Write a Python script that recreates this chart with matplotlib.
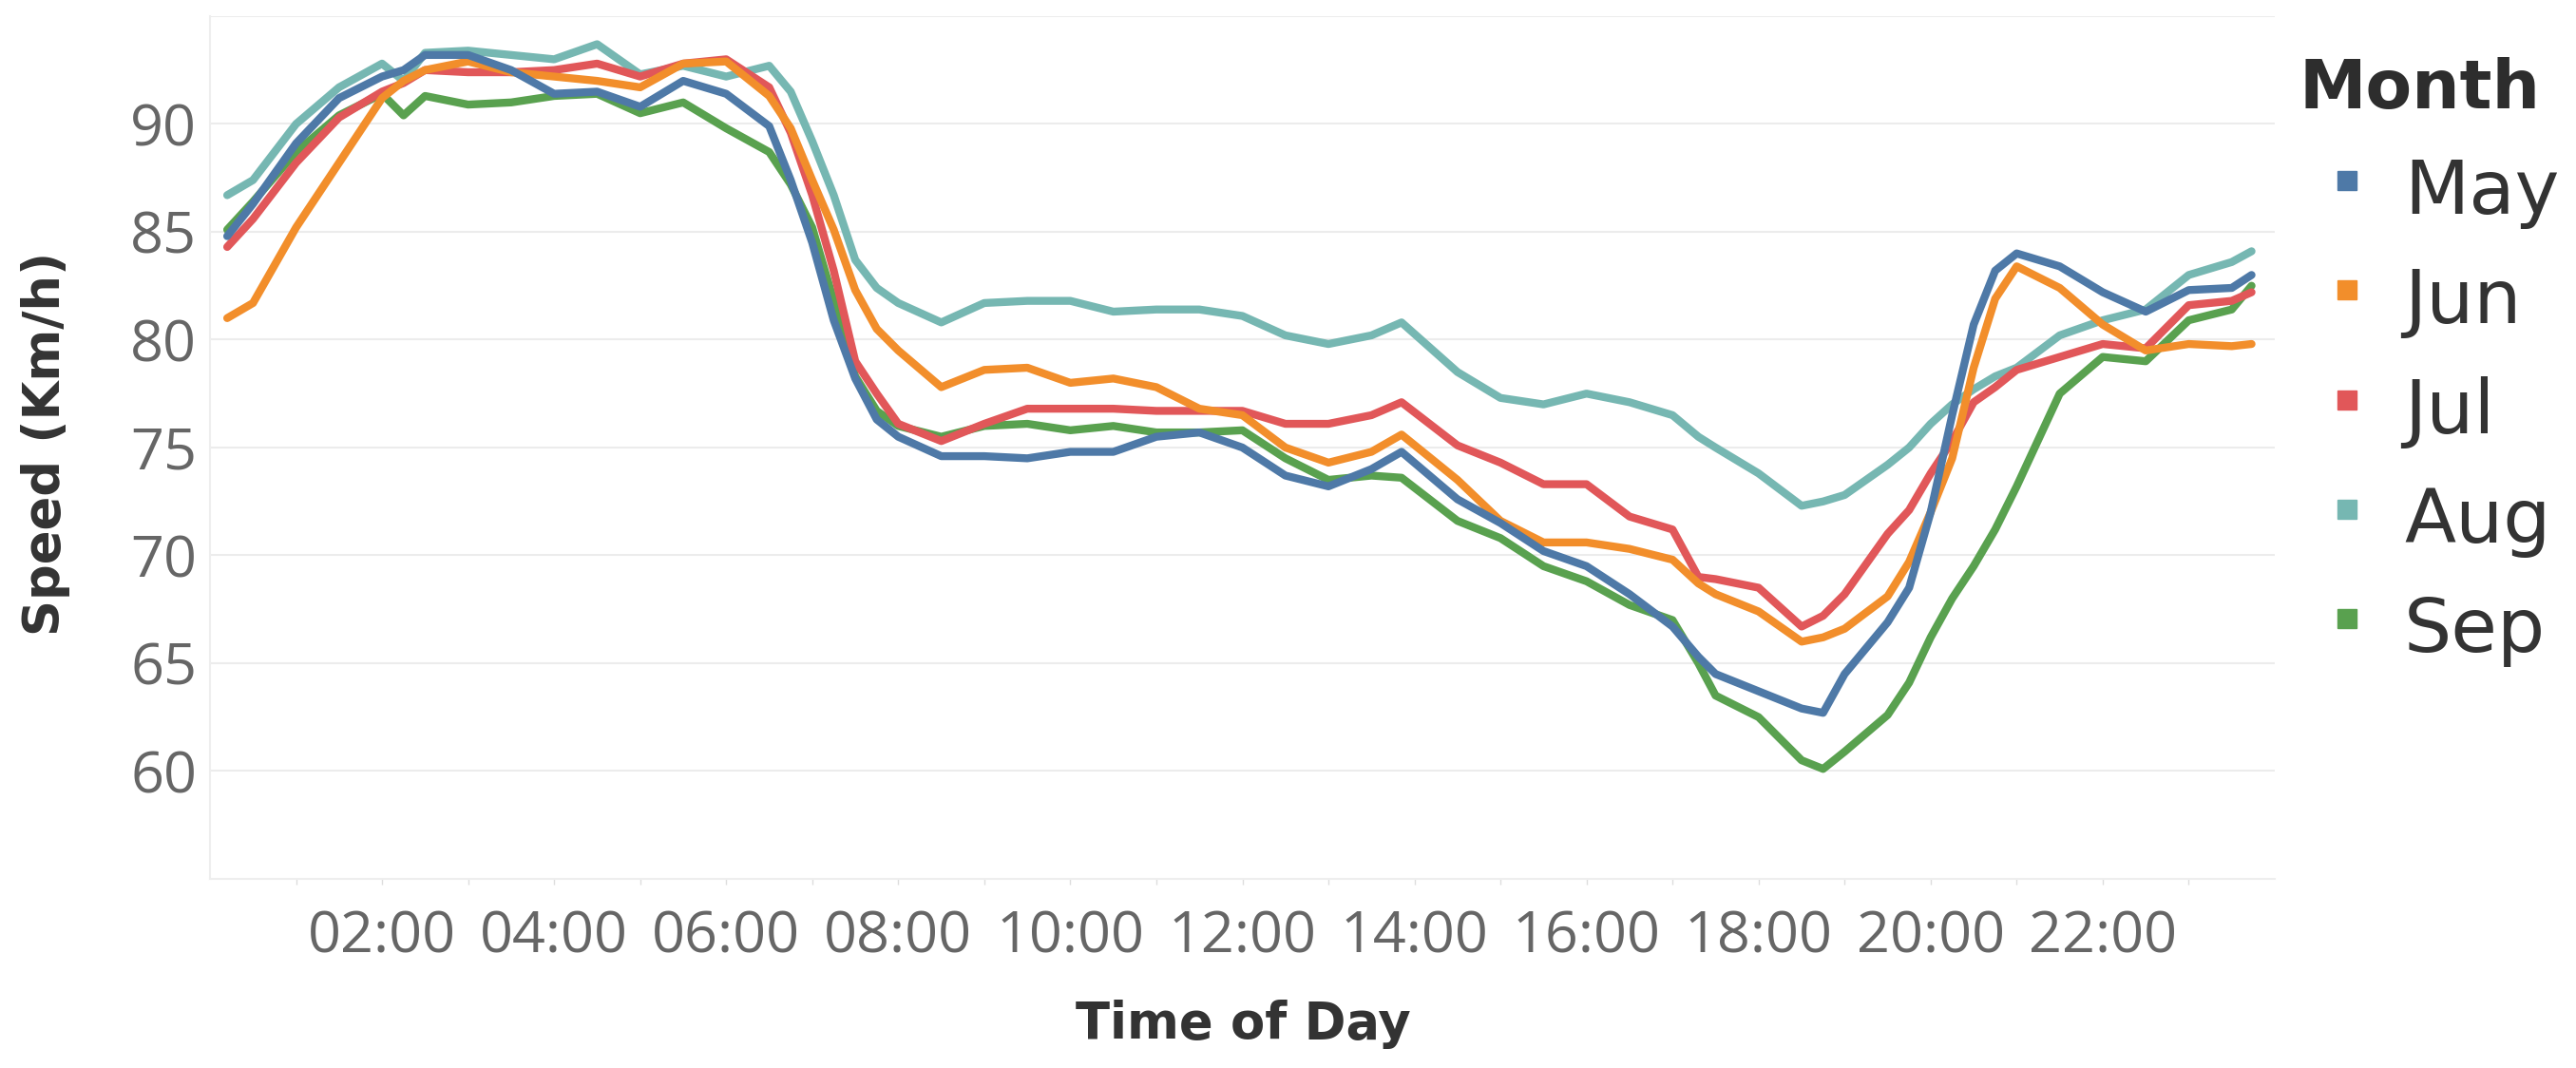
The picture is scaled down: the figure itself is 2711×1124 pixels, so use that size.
import matplotlib
matplotlib.use("Agg")
import matplotlib.pyplot as plt
from matplotlib.lines import Line2D

# time of day in hours
hours = [0.2, 0.5, 1.0, 1.5, 2.0, 2.25, 2.5, 3.0, 3.5, 4.0, 4.5, 5.0,
         5.5, 6.0, 6.5, 6.75, 7.0, 7.25, 7.5, 7.75, 8.0, 8.5,
         9.0, 9.5, 10.0, 10.5, 11.0, 11.5, 12.0, 12.5, 13.0, 13.5,
         13.85, 14.5, 15.0, 15.5, 16.0, 16.5, 17.0, 17.3, 17.5, 18.0,
         18.5, 18.75, 19.0, 19.5, 19.75, 20.0, 20.25, 20.5, 20.75, 21.0,
         21.5, 22.0, 22.5, 23.0, 23.5, 23.73]

may = [84.8, 86.3, 89.1, 91.2, 92.2, 92.5, 93.2, 93.2, 92.5, 91.4, 91.5, 90.8,
       92.0, 91.4, 89.9, 87.4, 84.5, 80.9, 78.2, 76.3, 75.5, 74.6,
       74.6, 74.5, 74.8, 74.8, 75.5, 75.7, 75.0, 73.7, 73.2, 74.0,
       74.8, 72.6, 71.5, 70.2, 69.5, 68.2, 66.7, 65.3, 64.5, 63.7,
       62.9, 62.7, 64.5, 66.9, 68.5, 72.0, 76.5, 80.7, 83.2, 84.0,
       83.4, 82.2, 81.3, 82.3, 82.4, 83.0]

jun = [81.0, 81.7, 85.2, 88.2, 91.2, 92.0, 92.5, 92.9, 92.4, 92.2, 92.0, 91.7,
       92.8, 92.9, 91.3, 89.8, 87.4, 85.1, 82.3, 80.5, 79.5, 77.8,
       78.6, 78.7, 78.0, 78.2, 77.8, 76.8, 76.5, 75.0, 74.3, 74.8,
       75.6, 73.5, 71.6, 70.6, 70.6, 70.3, 69.8, 68.7, 68.2, 67.4,
       66.0, 66.2, 66.6, 68.1, 69.7, 72.0, 74.5, 78.7, 81.9, 83.4,
       82.4, 80.7, 79.5, 79.8, 79.7, 79.8]

jul = [84.3, 85.6, 88.2, 90.3, 91.5, 91.9, 92.5, 92.4, 92.4, 92.5, 92.8, 92.2,
       92.8, 93.0, 91.7, 89.6, 86.7, 83.2, 79.0, 77.5, 76.1, 75.3,
       76.1, 76.8, 76.8, 76.8, 76.7, 76.7, 76.7, 76.1, 76.1, 76.5,
       77.1, 75.1, 74.3, 73.3, 73.3, 71.8, 71.2, 69.0, 68.9, 68.5,
       66.7, 67.2, 68.2, 71.0, 72.1, 73.8, 75.3, 77.1, 77.8, 78.6,
       79.2, 79.8, 79.6, 81.6, 81.8, 82.2]

aug = [86.7, 87.4, 90.0, 91.7, 92.8, 92.0, 93.3, 93.4, 93.2, 93.0, 93.7, 92.3,
       92.7, 92.2, 92.7, 91.5, 89.2, 86.7, 83.7, 82.4, 81.7, 80.8,
       81.7, 81.8, 81.8, 81.3, 81.4, 81.4, 81.1, 80.2, 79.8, 80.2,
       80.8, 78.5, 77.3, 77.0, 77.5, 77.1, 76.5, 75.5, 75.0, 73.8,
       72.3, 72.5, 72.8, 74.2, 75.0, 76.1, 77.0, 77.7, 78.3, 78.7,
       80.2, 80.9, 81.4, 83.0, 83.6, 84.1]

sep = [85.1, 86.4, 88.7, 90.4, 91.4, 90.4, 91.3, 90.9, 91.0, 91.3, 91.4, 90.5,
       91.0, 89.8, 88.7, 87.2, 85.2, 81.8, 78.3, 76.7, 76.0, 75.5,
       76.0, 76.1, 75.8, 76.0, 75.7, 75.7, 75.8, 74.5, 73.5, 73.7,
       73.6, 71.6, 70.8, 69.5, 68.8, 67.7, 67.0, 65.0, 63.5, 62.5,
       60.5, 60.1, 60.9, 62.6, 64.1, 66.2, 68.0, 69.5, 71.2, 73.2,
       77.5, 79.2, 79.0, 80.9, 81.4, 82.5]

months = ["May", "Jun", "Jul", "Aug", "Sep"]
series = [may, jun, jul, aug, sep]
colors = ["#4e79a7", "#f28e2b", "#e15759", "#76b7b2", "#59a14f"]

tick_hours = list(range(2, 23, 2))
tick_labels = ["%02d:00" % h for h in tick_hours]
y_ticks = list(range(55, 100, 5))
y_labels = ["" if v in (55, 95) else str(v) for v in y_ticks]

fig = plt.figure(figsize=(27.11, 11.24), dpi=100)
ax = fig.add_axes([221 / 2711, 199 / 1124, 2173 / 2711, 908 / 1124])

# draw order so that May ends up on top
for i in [3, 4, 2, 1, 0]:
    ax.plot(hours, series[i], color=colors[i], lw=6,
            solid_joinstyle="round", solid_capstyle="round")

ax.set_xlim(0, 24)
ax.set_ylim(55, 95)

ax.set_yticks(y_ticks, y_labels)
ax.set_xticks(tick_hours, tick_labels)
ax.set_xticks(range(1, 24), minor=True)
ax.grid(axis="y", color="#ececec", lw=1.5)
ax.set_axisbelow(True)

for lab in ax.get_xticklabels() + ax.get_yticklabels():
    lab.set_fontfamily("Open Sans")
    lab.set_fontsize(44)
    lab.set_color("#666666")

ax.tick_params(axis="y", length=0, pad=10)
ax.tick_params(axis="x", which="both", length=4, width=1, color="#dddddd", pad=19)

for s in ["top", "right"]:
    ax.spines[s].set_visible(False)
for s in ["left", "bottom"]:
    ax.spines[s].set_color("#eeeeee")
    ax.spines[s].set_linewidth(1.5)

fig.text(1308 / 2711, 1 - 1078 / 1124, "Time of Day", ha="center", va="center",
         fontsize=38, fontweight="bold", color="#333333", family="DejaVu Sans")
fig.text(48 / 2711, 1 - 467 / 1124, "Speed (Km/h)", ha="center", va="center",
         rotation=90, fontsize=38, fontweight="bold", color="#333333",
         family="DejaVu Sans")

# legend
fig.text(2420 / 2711, 1 - 114 / 1124, "Month", ha="left", va="baseline",
         fontsize=51, fontweight="bold", color="#2d2d2d", family="DejaVu Sans")
for k, (m, c) in enumerate(zip(months, colors)):
    yc = 190 + k * 115.3
    fig.add_artist(Line2D([2470 / 2711], [1 - yc / 1124], marker="s",
                          markersize=15, color=c, lw=0,
                          transform=fig.transFigure))
    fig.text(2530 / 2711, 1 - (yc + 35) / 1124, m, ha="left", va="baseline",
             fontsize=57, color="#333333", family="DejaVu Sans")

fig.savefig("out.png", dpi=100)
